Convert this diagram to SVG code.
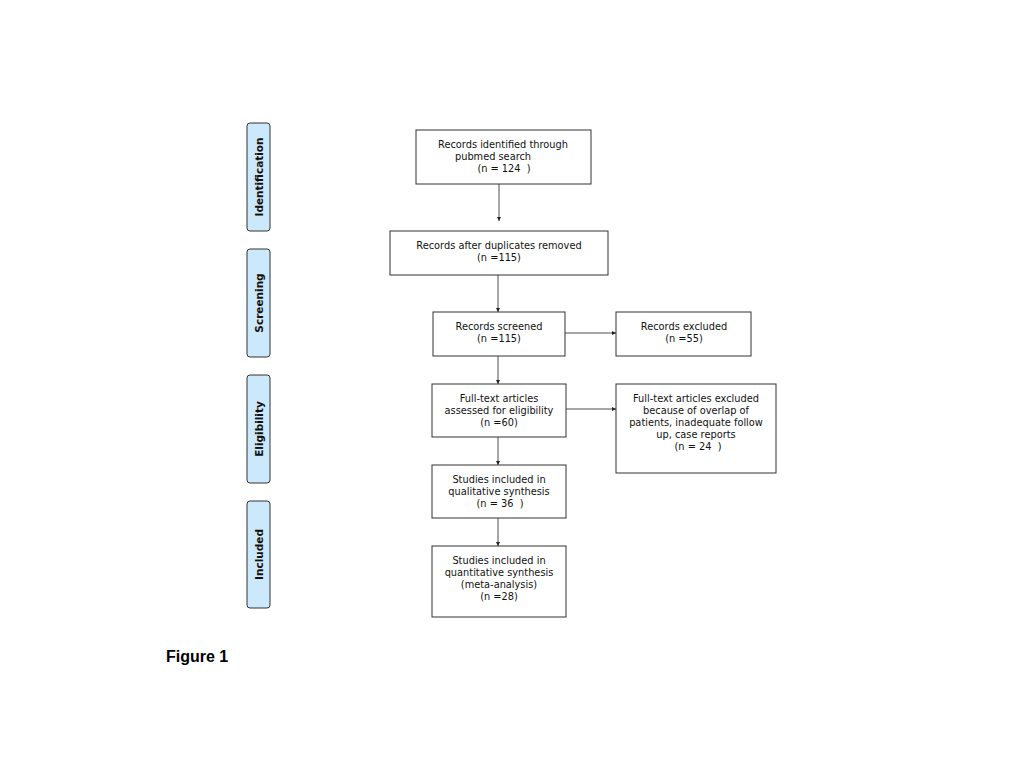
<svg xmlns="http://www.w3.org/2000/svg" width="1024" height="768" viewBox="0 0 1024 768">
<style>
.side{fill:#cce8fb;stroke:#333;stroke-width:1}
.side-t{font-family:"DejaVu Sans",sans-serif;font-size:10.5px;font-weight:bold;fill:#111;text-anchor:middle}
.box{fill:#fff;stroke:#333;stroke-width:1}
.t{font-family:"DejaVu Sans",sans-serif;font-size:9.8px;fill:#111;text-anchor:middle}
.c{stroke:#222;stroke-width:0.8;fill:none;marker-end:url(#ah)}
</style>
<defs>
<marker id="ah" markerWidth="4" markerHeight="4" refX="4" refY="2" orient="auto" markerUnits="userSpaceOnUse">
<path d="M0,0 L4,2 L0,4 Z" fill="#222"/>
</marker>
</defs>
<rect width="1024" height="768" fill="#fff"/>
<g id="phase-identification"><rect class="side" x="247" y="123" width="23" height="108" rx="3"/><text class="side-t" transform="translate(262.5,177) rotate(-90)">Identification</text></g>
<g id="phase-screening"><rect class="side" x="247" y="249" width="23" height="108" rx="3"/><text class="side-t" transform="translate(262.5,303) rotate(-90)">Screening</text></g>
<g id="phase-eligibility"><rect class="side" x="247" y="375" width="23" height="108" rx="3"/><text class="side-t" transform="translate(262.5,429) rotate(-90)">Eligibility</text></g>
<g id="phase-included"><rect class="side" x="247" y="501" width="23" height="107" rx="3"/><text class="side-t" transform="translate(262.5,554.5) rotate(-90)">Included</text></g>
<g id="connectors">
<line class="c" x1="499" y1="184" x2="499" y2="221"/>
<line class="c" x1="498" y1="275" x2="498" y2="312"/>
<line class="c" x1="565" y1="333" x2="616" y2="333"/>
<line class="c" x1="498" y1="356" x2="498" y2="384"/>
<line class="c" x1="566" y1="409" x2="616" y2="409"/>
<line class="c" x1="498" y1="437" x2="498" y2="465"/>
<line class="c" x1="498" y1="518" x2="498" y2="546"/>
</g>
<g id="n1"><rect class="box" x="416" y="130" width="175" height="54"/>
<text class="t" x="503" y="148">Records identified through</text>
<text class="t" x="493" y="160">pubmed search</text>
<text class="t" x="504" y="172" xml:space="preserve">(n = 124  )</text></g>
<g id="n2"><rect class="box" x="390" y="231" width="218" height="44"/>
<text class="t" x="499" y="249">Records after duplicates removed</text>
<text class="t" x="499" y="261">(n =115)</text></g>
<g id="n3"><rect class="box" x="433" y="312" width="132" height="44"/>
<text class="t" x="499" y="330">Records screened</text>
<text class="t" x="499" y="342">(n =115)</text></g>
<g id="n4"><rect class="box" x="616" y="312" width="135" height="44"/>
<text class="t" x="684" y="330">Records excluded</text>
<text class="t" x="684" y="342">(n =55)</text></g>
<g id="n5"><rect class="box" x="432" y="384" width="134" height="53"/>
<text class="t" x="499" y="402">Full-text articles</text>
<text class="t" x="499" y="414">assessed for eligibility</text>
<text class="t" x="499" y="426">(n =60)</text></g>
<g id="n6"><rect class="box" x="616" y="384" width="160" height="89"/>
<text class="t" x="696" y="402">Full-text articles excluded</text>
<text class="t" x="696" y="414">because of overlap of</text>
<text class="t" x="696" y="426">patients, inadequate follow</text>
<text class="t" x="696" y="438">up, case reports</text>
<text class="t" x="698" y="450" xml:space="preserve">(n = 24  )</text></g>
<g id="n7"><rect class="box" x="432" y="465" width="134" height="53"/>
<text class="t" x="499" y="483">Studies included in</text>
<text class="t" x="499" y="495">qualitative synthesis</text>
<text class="t" x="500" y="507" xml:space="preserve">(n = 36  )</text></g>
<g id="n8"><rect class="box" x="432" y="546" width="134" height="71"/>
<text class="t" x="499" y="564">Studies included in</text>
<text class="t" x="499" y="576">quantitative synthesis</text>
<text class="t" x="499" y="588">(meta-analysis)</text>
<text class="t" x="499" y="600">(n =28)</text></g>
<text x="166" y="662" font-family="Liberation Sans, Arial, sans-serif" font-size="16" font-weight="bold" fill="#000">Figure 1</text>
</svg>
